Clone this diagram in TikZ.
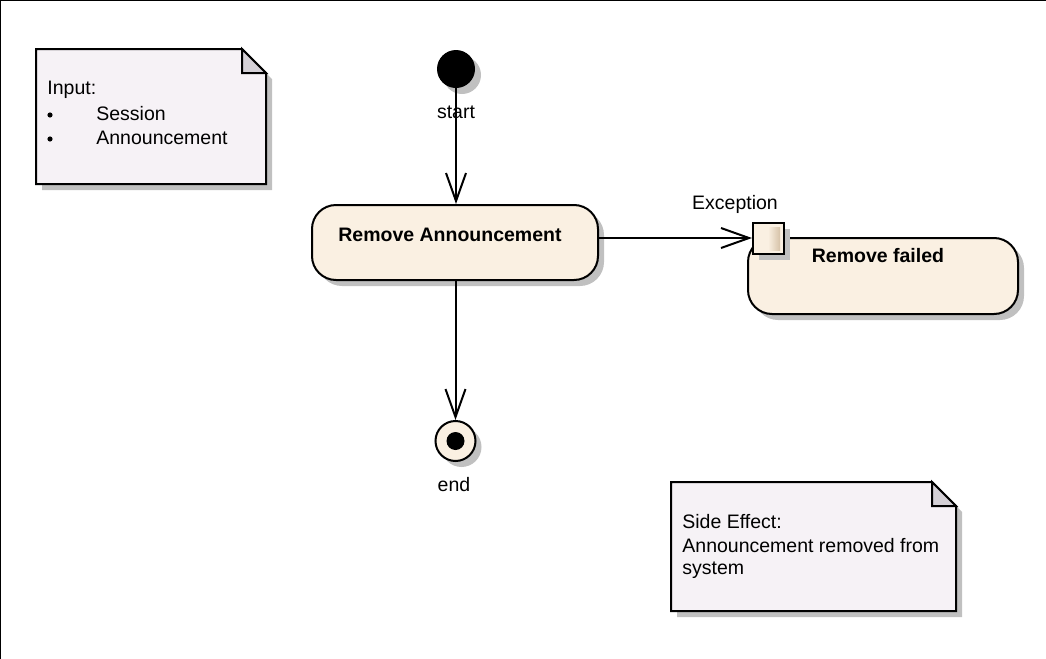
\documentclass[tikz,border=0pt]{standalone}
\usepackage{fontspec}
\setmainfont{Liberation Sans}
\usetikzlibrary{arrows.meta,shadows}
\definecolor{notefill}{RGB}{246,242,246}
\definecolor{foldfill}{RGB}{212,208,214}
\definecolor{actfill}{RGB}{250,240,226}
\definecolor{pindark}{RGB}{214,194,168}
\definecolor{shadowgray}{RGB}{192,192,192}
\tikzset{
	every node/.style={font=\fontsize{9.75}{12}\selectfont},
	umlshadow/.style={drop shadow={shadow xshift=3pt, shadow yshift=-3pt, fill=shadowgray, opacity=1}},
	action/.style={draw, line width=1pt, fill=actfill, rectangle, rounded corners=12pt, inner sep=0pt, umlshadow},
	initial/.style={circle, fill=black, minimum size=19pt, inner sep=0pt, umlshadow},
	final/.style={circle, draw, line width=1pt, fill=actfill, minimum size=20pt, inner sep=0pt, umlshadow},
	flow/.style={draw, line width=1pt, -{Straight Barb[length=14pt, width=10pt, line width=1pt]}},
	notetext/.style={anchor=west, inner sep=0pt},
	bulletdot/.style={circle, fill=black, minimum size=2.6pt, inner sep=0pt}
}

\begin{document}
\begin{tikzpicture}[x=0.5pt, y=-0.5pt]
			\useasboundingbox (0,0) rectangle (1046,659);
			\draw [line width=1pt] (0,659) -- (0,0) -- (1046,0);

			\fill [shadowgray] (42,55)--(248,55)--(272,79)--(272,190)--(42,190)--cycle;
			\draw [line width=1pt, fill=notefill] (36,49)--(242,49)--(266,73)--(266,184)--(36,184)--cycle;
			\draw [line width=1pt, fill=foldfill] (242,49)--(242,73)--(266,73)--cycle;
			\node [notetext] (input) at (47,90) {Input:};
			\node [bulletdot] (bulleta) at (50,115) {};
			\node [notetext] (session) at (96,114) {Session};
			\node [bulletdot] (bulletb) at (50,139) {};
			\node [notetext] (announce) at (96,138) {Announcement};

			\fill [shadowgray] (677,488)--(938,488)--(962,512)--(962,617)--(677,617)--cycle;
			\draw [line width=1pt, fill=notefill] (671,482)--(932,482)--(956,506)--(956,611)--(671,611)--cycle;
			\draw [line width=1pt, fill=foldfill] (932,482)--(932,506)--(956,506)--cycle;
			\node [notetext] (sideeffect) at (682,522) {Side Effect:};
			\node [notetext] (removed) at (682,546) {Announcement removed from};
			\node [notetext] (system) at (682,570) {system};

			\node [initial] (start) at (456,69) {};
			\node (startlabel) at (456,112) {start};

			\node [action, minimum width=143pt, minimum height=37.5pt,
				label={[font=\fontsize{9.75}{12}\selectfont\bfseries, xshift=-2.5pt, yshift=4pt]center:Remove Announcement}]
				(remove) at (455,242.5) {};

			\node [action, minimum width=135pt, minimum height=38pt,
				label={[font=\fontsize{9.75}{12}\selectfont\bfseries, xshift=-2.5pt, yshift=10pt]center:Remove failed}]
				(failed) at (883,276) {};

			\node [draw, line width=1pt, fill=actfill, minimum size=15.5pt, inner sep=0pt, umlshadow] (pin) at (768.5,238) {};
			\shade [left color=actfill, right color=pindark] (768,227) rectangle (780,250);
			\node (exception) at (735,204) {Exception};

			\node [final] (end) at (455.5,441) {};
			\node [circle, fill=black, minimum size=9pt, inner sep=0pt] (enddot) at (end.center) {};
			\node (endlabel) at (454,485) {end};

			\draw [flow] (start) -- (start |- remove.north);
			\draw [flow] (remove.east |- pin.west) -- (pin.west);
			\draw [flow] (remove.south -| end) -- (end.north);
		\end{tikzpicture}
\end{document}
